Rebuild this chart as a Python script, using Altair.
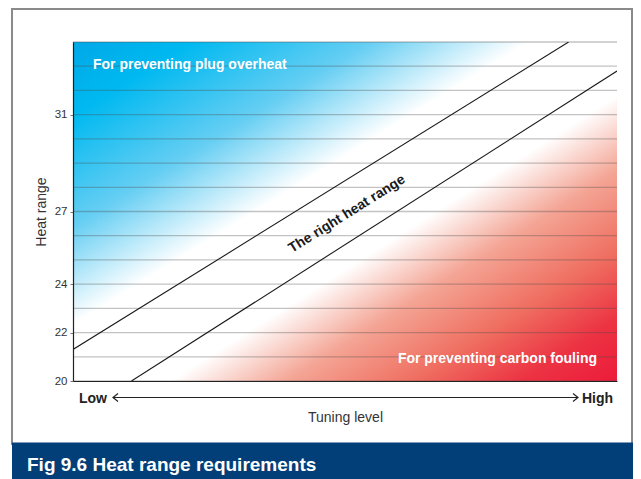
import altair as alt
import pandas as pd

# ---- data ----
grid_levels = list(range(20, 35))          # one gridline per heat-range step
y_tick_labels = [20, 22, 24, 27, 31]       # labelled heat ranges
upper_x = [0, 91.1]                        # upper boundary of the right heat range
upper_y = [21.3, 34.0]
lower_x = [10.75, 100]                     # lower boundary of the right heat range
lower_y = [20.0, 32.8]
y_min, y_max = 20, 34
x_min, x_max = 0, 100

title_text = "Fig 9.6 Heat range requirements"
overheat_text = "For preventing plug overheat"
fouling_text = "For preventing carbon fouling"
right_text = "The right heat range"
low_text = "Low"
high_text = "High"

W, H = 544, 339
FONT = "Liberation Sans"

xs = alt.Scale(domain=[x_min, x_max], nice=False, zero=False)
ys = alt.Scale(domain=[y_min, y_max], nice=False, zero=False)

x_axis = alt.Axis(title="Tuning level", labels=False, ticks=False, grid=False,
                  domainColor="#222222", domainWidth=1.2,
                  titleFont=FONT, titleFontSize=14, titleFontWeight="normal",
                  titleColor="#333333", titleY=40, titleBaseline="alphabetic",
                  zindex=1)
y_axis = alt.Axis(title="Heat range", values=y_tick_labels, grid=False,
                  tickSize=3, tickColor="#777777", labelPadding=3,
                  labelFont=FONT, labelFontSize=11.5, labelColor="#333333",
                  domainColor="#222222", domainWidth=1.2,
                  titleFont=FONT, titleFontSize=14, titleFontWeight="normal",
                  titleColor="#333333", titleAngle=270, titleX=-28, titleY=H / 2,
                  titleAlign="center", titleBaseline="alphabetic", zindex=1)

blue_grad = alt.LinearGradient(
    gradient="linear", x1=0, y1=0, x2=1, y2=1,
    stops=[alt.GradientStop(color="#00a8e7", offset=0),
           alt.GradientStop(color="#00b9f0", offset=0.12),
           alt.GradientStop(color="#66cef3", offset=0.3),
           alt.GradientStop(color="#ffffff", offset=0.46),
           alt.GradientStop(color="#ffffff", offset=1)])
red_grad = alt.LinearGradient(
    gradient="linear", x1=0, y1=0, x2=1, y2=1,
    stops=[alt.GradientStop(color="#ffffff", offset=0),
           alt.GradientStop(color="#ffffff", offset=0.54),
           alt.GradientStop(color="#f4a595", offset=0.66),
           alt.GradientStop(color="#ef6e60", offset=0.79),
           alt.GradientStop(color="#ec3343", offset=0.9),
           alt.GradientStop(color="#ec1b3a", offset=1)])

blue_df = pd.DataFrame({"x": upper_x, "y": upper_y, "top": [y_max] * len(upper_x)})
red_df = pd.DataFrame({"x": lower_x, "y": lower_y, "bottom": [y_min] * len(lower_x)})
lines_df = pd.DataFrame({"x": upper_x + lower_x, "y": upper_y + lower_y,
                         "s": ["upper"] * len(upper_x) + ["lower"] * len(lower_x)})
grid_df = pd.DataFrame({"g": grid_levels})

blue = alt.Chart(blue_df).mark_area(color=blue_grad).encode(
    x=alt.X("x:Q", scale=xs, axis=x_axis),
    y=alt.Y("y:Q", scale=ys, axis=y_axis),
    y2="top:Q")
red = alt.Chart(red_df).mark_area(color=red_grad).encode(
    x=alt.X("x:Q", scale=xs), y=alt.Y("y:Q", scale=ys), y2="bottom:Q")
grid = alt.Chart(grid_df).mark_rule(color="#4a4a4a", opacity=0.33, strokeWidth=1.3).encode(
    y=alt.Y("g:Q", scale=ys))
lines = alt.Chart(lines_df).mark_line(color="#1a1a1a", strokeWidth=1.1, clip=True).encode(
    x=alt.X("x:Q", scale=xs), y=alt.Y("y:Q", scale=ys), detail="s:N")

one = pd.DataFrame({"k": [0]})

def label(text, x, y, **kw):
    return alt.Chart(one).mark_text(text=text, font=FONT, **kw).encode(
        x=alt.value(x), y=alt.value(y))

t_over = label(overheat_text, 20, 27.3, align="left", baseline="alphabetic",
               fontSize=14, fontWeight="bold", color="white")
t_foul = label(fouling_text, 524, 320.7, align="right", baseline="alphabetic",
               fontSize=14, fontWeight="bold", color="white")
t_right = label(right_text, 274, 172, align="center", baseline="middle",
                fontSize=14, fontWeight="bold", color="#1a1a1a", angle=328)
t_low = label(low_text, 6, 361, align="left", baseline="alphabetic",
              fontSize=14, fontWeight="bold", color="#222222")
t_high = label(high_text, 540, 361, align="right", baseline="alphabetic",
               fontSize=14, fontWeight="bold", color="#222222")

arrow = alt.Chart(one).mark_rule(color="#222222", strokeWidth=1.2).encode(
    x=alt.value(40), x2=alt.value(505), y=alt.value(355.5))
head_r = alt.Chart(one).mark_point(shape="M-1,-0.8L0,0L-1,0.8", size=100, filled=False,
                                   color="#222222", strokeWidth=1.2, opacity=1).encode(
    x=alt.value(505), y=alt.value(355.5))
head_l = alt.Chart(one).mark_point(shape="M1,-0.8L0,0L1,0.8", size=100, filled=False,
                                   color="#222222", strokeWidth=1.2, opacity=1).encode(
    x=alt.value(40), y=alt.value(355.5))

frame = alt.Chart(one).mark_rect(filled=False, stroke="#8a8a8a", strokeWidth=2).encode(
    x=alt.value(-61), x2=alt.value(559), y=alt.value(-33), y2=alt.value(402))
banner = alt.Chart(one).mark_rect(color="#023f78").encode(
    x=alt.value(-61), x2=alt.value(580), y=alt.value(400.5), y2=alt.value(450))
t_banner = label(title_text, -46, 428.7, align="left", baseline="alphabetic",
                 fontSize=19, fontWeight="bold", color="white")

chart = alt.layer(
    blue, red, grid, lines, t_over, t_foul, t_right,
    arrow, head_l, head_r, t_low, t_high, frame, banner, t_banner
).properties(
    width=W, height=H,
    autosize=alt.AutoSizeParams(type="none"),
    padding={"left": 65, "top": 34, "right": 16, "bottom": 98},
).configure_view(stroke=None)

chart.save("out.html", embed_options={"renderer": "svg", "actions": False})
